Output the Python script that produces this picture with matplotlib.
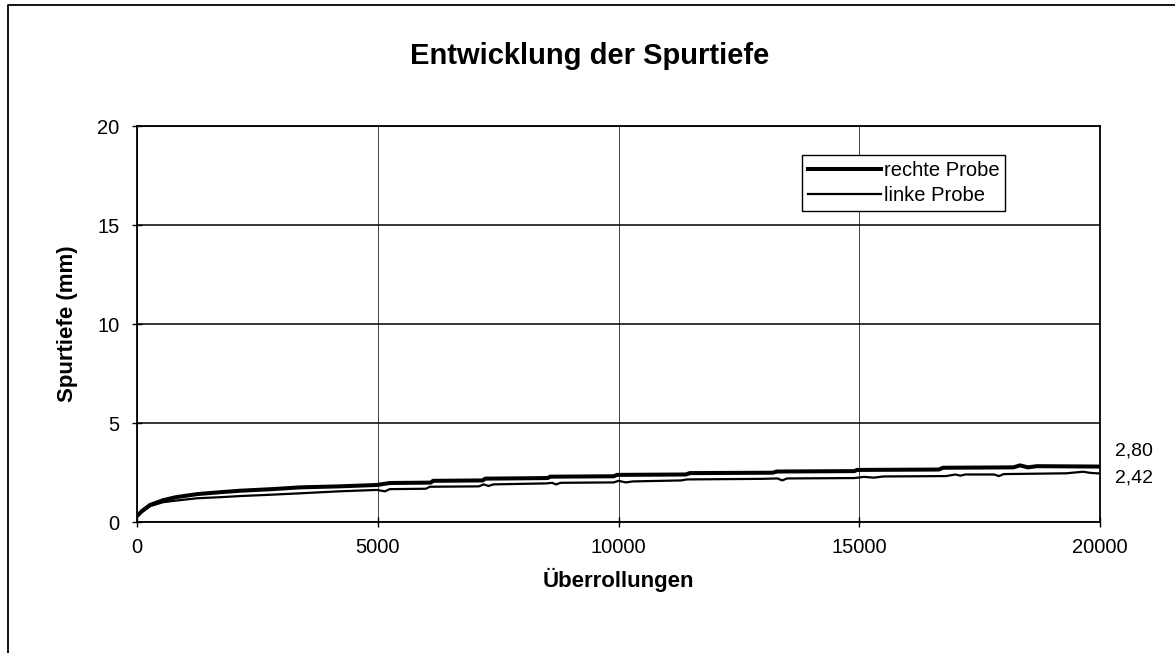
import matplotlib.pyplot as plt
from matplotlib.lines import Line2D

# Überrollungen / Spurtiefe (mm)
rechte_x = [0, 100, 270, 540, 800, 1250, 1700, 2140, 2800, 3390, 4200, 4980,
            5250, 6100, 6150, 7180, 7230, 8530, 8580, 9900, 9970, 11400, 11480,
            13200, 13290, 14900, 14950, 16650, 16740, 18200, 18340, 18500,
            18690, 20000]
rechte_y = [0.30, 0.55, 0.86, 1.10, 1.25, 1.41, 1.50, 1.58, 1.66, 1.75, 1.80, 1.87,
            1.97, 1.99, 2.08, 2.10, 2.19, 2.22, 2.29, 2.31, 2.38, 2.40, 2.47,
            2.49, 2.55, 2.57, 2.63, 2.65, 2.74, 2.76, 2.86, 2.76,
            2.82, 2.80]

linke_x = [0, 100, 270, 540, 800, 1250, 1700, 2140, 2800, 3390, 4200, 4980,
           5150, 5250, 6000, 6080, 7100, 7200, 7300, 7400, 8500, 8620, 8700,
           8800, 9900, 10000, 10150, 10300, 11300, 11420, 13000, 13300, 13400,
           13500, 14900, 15100, 15300, 15500, 16800, 17000, 17100, 17200,
           17800, 17900, 18000, 19300, 19650, 19800, 20000]
linke_y = [0.28, 0.50, 0.80, 1.00, 1.08, 1.20, 1.25, 1.31, 1.38, 1.45, 1.55, 1.62,
           1.55, 1.66, 1.68, 1.78, 1.80, 1.90, 1.82, 1.90, 1.95, 1.98, 1.90,
           1.98, 2.00, 2.08, 2.00, 2.05, 2.10, 2.15, 2.18, 2.20, 2.10,
           2.20, 2.22, 2.28, 2.24, 2.30, 2.32, 2.40, 2.34, 2.40,
           2.40, 2.32, 2.42, 2.46, 2.54, 2.48, 2.45]

end_labels = ["2,80", "2,42"]
end_values = [2.80, 2.42]

plt.rcParams['font.family'] = ['Liberation Sans', 'DejaVu Sans']

fig = plt.figure(figsize=(11.75, 6.53), dpi=100)
ax = fig.add_axes([0.1166, 0.2006, 0.8196, 0.6064])

ax.plot(rechte_x, rechte_y, color='black', linewidth=2.9, label='rechte Probe')
ax.plot(linke_x, linke_y, color='black', linewidth=1.6, label='linke Probe')

ax.set_xlim(0, 20000)
ax.set_ylim(0, 20)
ax.set_xticks([0, 5000, 10000, 15000, 20000])
ax.set_yticks([0, 5, 10, 15, 20])
ax.tick_params(labelsize=14.5, direction='inout', length=7, width=1)
ax.tick_params(axis='x', pad=8)
ax.tick_params(axis='y', pad=9)

ax.grid(axis='y', color='black', linewidth=1.1)
ax.grid(axis='x', color='#444444', linewidth=0.7)
for sp in ax.spines.values():
    sp.set_linewidth(1.3)

fig.text(0.502, 0.915, 'Entwicklung der Spurtiefe', fontsize=21, fontweight='bold',
         ha='center', va='center')
ax.set_xlabel('Überrollungen', fontsize=16, fontweight='bold', labelpad=8)
ax.set_ylabel('Spurtiefe (mm)', fontsize=16, fontweight='bold', labelpad=14)

leg = ax.legend(loc='upper left', bbox_to_anchor=(0.6905, 0.927), fontsize=14.5,
                frameon=True, fancybox=False, framealpha=1, edgecolor='black',
                handlelength=3.6, handletextpad=0.15, borderpad=0.3,
                labelspacing=0.3, borderaxespad=0)
leg.get_frame().set_linewidth(1.0)

offsets = [16, -4]
for lab, val, off in zip(end_labels, end_values, offsets):
    ax.annotate(lab, xy=(20000, val), xytext=(15, off), textcoords='offset pixels',
                ha='left', va='center', fontsize=14, annotation_clip=False)

# scanned frame: only top and left edges are visible
fig.add_artist(Line2D([0.007, 0.007, 1.0], [0.0, 0.992, 0.992],
                      transform=fig.transFigure, color='black', linewidth=1.3))

fig.savefig('out.png', dpi=100)
